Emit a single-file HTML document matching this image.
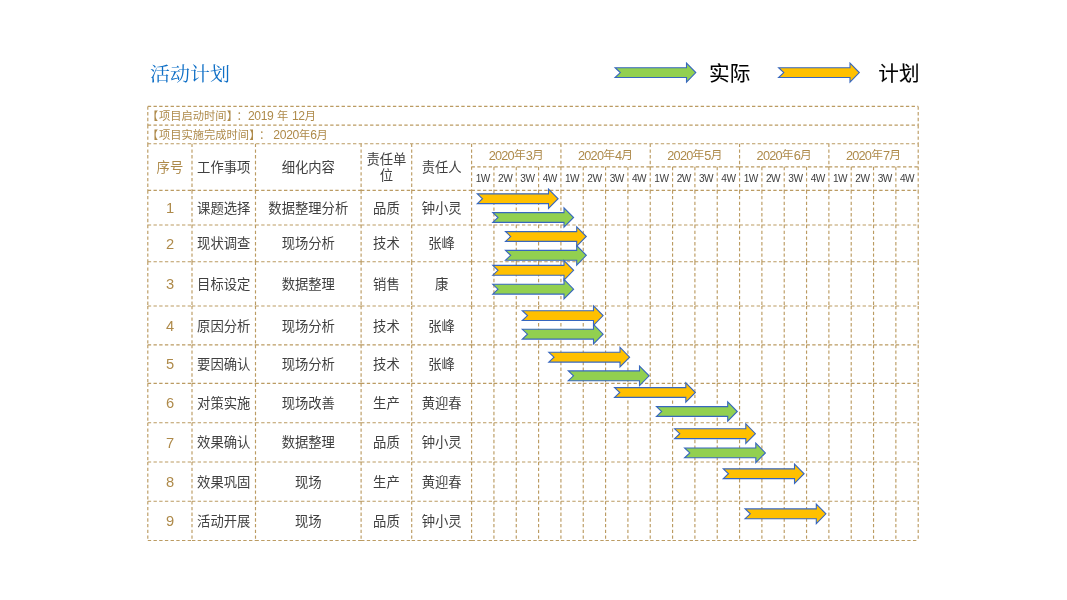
<!DOCTYPE html>
<html lang="zh-CN">
<head>
<meta charset="utf-8">
<title>活动计划</title>
<style>
html,body{margin:0;padding:0;background:#fff;}
body{width:1067px;height:600px;position:relative;overflow:hidden;font-family:"Liberation Sans","Noto Sans CJK SC",sans-serif;color:#404040;}
svg{position:absolute;left:0;top:0;}
.c{position:absolute;display:flex;align-items:center;justify-content:center;text-align:center;font-size:13.33px;line-height:15.8px;white-space:nowrap;box-sizing:border-box;}
.g{color:#AE8A4A;}
.m{font-size:11.8px;}
.w{font-size:10.1px;letter-spacing:-0.5px;}
.d{font-size:1.1em;line-height:0;}
.m .d{font-size:1.08em;letter-spacing:-0.06em;}
.info .d{font-size:1.08em;letter-spacing:-0.03em;}
.t{position:absolute;white-space:nowrap;}
.title{left:150px;top:61px;transform-origin:0 0;transform:scaleY(0.94);font-family:"Liberation Serif","Noto Serif CJK SC",serif;font-size:20px;line-height:28px;color:#0F6FC6;}
.lg{font-size:20.6px;line-height:28px;color:#000;top:60.3px;-webkit-text-stroke:0.1px #000;}
.cl{margin-left:4.2px;}
.bk{margin-left:0.7px;margin-right:0.3px;}
.d1{margin-left:0.1px;}
.d2{margin-left:3px;}
.sp{margin:0 3.6px;}
.info{font-size:11.25px;line-height:16px;color:#AE8A4A;left:147px;}
</style>
</head>
<body>
<svg width="1067" height="600" viewBox="0 0 1067 600">
<path d="M147.8 106.4H918.2M147.8 125.05H918.2M147.8 143.7H918.2M147.8 106.4V125.05M918.2 106.4V125.05M147.8 125.05V143.7M918.2 125.05V143.7M147.8 143.7V190.3M192 143.7V190.3M255.5 143.7V190.3M361.1 143.7V190.3M411.7 143.7V190.3M471.6 143.7V190.3M560.92 143.7V166.8M650.24 143.7V166.8M739.56 143.7V166.8M828.88 143.7V166.8M918.2 143.7V166.8M471.6 166.8H560.92M560.92 166.8H650.24M650.24 166.8H739.56M739.56 166.8H828.88M828.88 166.8H918.2M493.93 166.8V190.3M516.26 166.8V190.3M538.59 166.8V190.3M560.92 166.8V190.3M583.25 166.8V190.3M605.58 166.8V190.3M627.91 166.8V190.3M650.24 166.8V190.3M672.57 166.8V190.3M694.9 166.8V190.3M717.23 166.8V190.3M739.56 166.8V190.3M761.89 166.8V190.3M784.22 166.8V190.3M806.55 166.8V190.3M828.88 166.8V190.3M851.21 166.8V190.3M873.54 166.8V190.3M895.87 166.8V190.3M918.2 166.8V190.3M147.8 190.3H192M192 190.3H255.5M255.5 190.3H361.1M361.1 190.3H411.7M411.7 190.3H471.6M471.6 190.3H493.93M493.93 190.3H516.26M516.26 190.3H538.59M538.59 190.3H560.92M560.92 190.3H583.25M583.25 190.3H605.58M605.58 190.3H627.91M627.91 190.3H650.24M650.24 190.3H672.57M672.57 190.3H694.9M694.9 190.3H717.23M717.23 190.3H739.56M739.56 190.3H761.89M761.89 190.3H784.22M784.22 190.3H806.55M806.55 190.3H828.88M828.88 190.3H851.21M851.21 190.3H873.54M873.54 190.3H895.87M895.87 190.3H918.2M147.8 225H192M192 225H255.5M255.5 225H361.1M361.1 225H411.7M411.7 225H471.6M471.6 225H493.93M493.93 225H516.26M516.26 225H538.59M538.59 225H560.92M560.92 225H583.25M583.25 225H605.58M605.58 225H627.91M627.91 225H650.24M650.24 225H672.57M672.57 225H694.9M694.9 225H717.23M717.23 225H739.56M739.56 225H761.89M761.89 225H784.22M784.22 225H806.55M806.55 225H828.88M828.88 225H851.21M851.21 225H873.54M873.54 225H895.87M895.87 225H918.2M147.8 261.7H192M192 261.7H255.5M255.5 261.7H361.1M361.1 261.7H411.7M411.7 261.7H471.6M471.6 261.7H493.93M493.93 261.7H516.26M516.26 261.7H538.59M538.59 261.7H560.92M560.92 261.7H583.25M583.25 261.7H605.58M605.58 261.7H627.91M627.91 261.7H650.24M650.24 261.7H672.57M672.57 261.7H694.9M694.9 261.7H717.23M717.23 261.7H739.56M739.56 261.7H761.89M761.89 261.7H784.22M784.22 261.7H806.55M806.55 261.7H828.88M828.88 261.7H851.21M851.21 261.7H873.54M873.54 261.7H895.87M895.87 261.7H918.2M147.8 306H192M192 306H255.5M255.5 306H361.1M361.1 306H411.7M411.7 306H471.6M471.6 306H493.93M493.93 306H516.26M516.26 306H538.59M538.59 306H560.92M560.92 306H583.25M583.25 306H605.58M605.58 306H627.91M627.91 306H650.24M650.24 306H672.57M672.57 306H694.9M694.9 306H717.23M717.23 306H739.56M739.56 306H761.89M761.89 306H784.22M784.22 306H806.55M806.55 306H828.88M828.88 306H851.21M851.21 306H873.54M873.54 306H895.87M895.87 306H918.2M147.8 344.8H192M192 344.8H255.5M255.5 344.8H361.1M361.1 344.8H411.7M411.7 344.8H471.6M471.6 344.8H493.93M493.93 344.8H516.26M516.26 344.8H538.59M538.59 344.8H560.92M560.92 344.8H583.25M583.25 344.8H605.58M605.58 344.8H627.91M627.91 344.8H650.24M650.24 344.8H672.57M672.57 344.8H694.9M694.9 344.8H717.23M717.23 344.8H739.56M739.56 344.8H761.89M761.89 344.8H784.22M784.22 344.8H806.55M806.55 344.8H828.88M828.88 344.8H851.21M851.21 344.8H873.54M873.54 344.8H895.87M895.87 344.8H918.2M147.8 383.3H192M192 383.3H255.5M255.5 383.3H361.1M361.1 383.3H411.7M411.7 383.3H471.6M471.6 383.3H493.93M493.93 383.3H516.26M516.26 383.3H538.59M538.59 383.3H560.92M560.92 383.3H583.25M583.25 383.3H605.58M605.58 383.3H627.91M627.91 383.3H650.24M650.24 383.3H672.57M672.57 383.3H694.9M694.9 383.3H717.23M717.23 383.3H739.56M739.56 383.3H761.89M761.89 383.3H784.22M784.22 383.3H806.55M806.55 383.3H828.88M828.88 383.3H851.21M851.21 383.3H873.54M873.54 383.3H895.87M895.87 383.3H918.2M147.8 422.7H192M192 422.7H255.5M255.5 422.7H361.1M361.1 422.7H411.7M411.7 422.7H471.6M471.6 422.7H493.93M493.93 422.7H516.26M516.26 422.7H538.59M538.59 422.7H560.92M560.92 422.7H583.25M583.25 422.7H605.58M605.58 422.7H627.91M627.91 422.7H650.24M650.24 422.7H672.57M672.57 422.7H694.9M694.9 422.7H717.23M717.23 422.7H739.56M739.56 422.7H761.89M761.89 422.7H784.22M784.22 422.7H806.55M806.55 422.7H828.88M828.88 422.7H851.21M851.21 422.7H873.54M873.54 422.7H895.87M895.87 422.7H918.2M147.8 462H192M192 462H255.5M255.5 462H361.1M361.1 462H411.7M411.7 462H471.6M471.6 462H493.93M493.93 462H516.26M516.26 462H538.59M538.59 462H560.92M560.92 462H583.25M583.25 462H605.58M605.58 462H627.91M627.91 462H650.24M650.24 462H672.57M672.57 462H694.9M694.9 462H717.23M717.23 462H739.56M739.56 462H761.89M761.89 462H784.22M784.22 462H806.55M806.55 462H828.88M828.88 462H851.21M851.21 462H873.54M873.54 462H895.87M895.87 462H918.2M147.8 501.2H192M192 501.2H255.5M255.5 501.2H361.1M361.1 501.2H411.7M411.7 501.2H471.6M471.6 501.2H493.93M493.93 501.2H516.26M516.26 501.2H538.59M538.59 501.2H560.92M560.92 501.2H583.25M583.25 501.2H605.58M605.58 501.2H627.91M627.91 501.2H650.24M650.24 501.2H672.57M672.57 501.2H694.9M694.9 501.2H717.23M717.23 501.2H739.56M739.56 501.2H761.89M761.89 501.2H784.22M784.22 501.2H806.55M806.55 501.2H828.88M828.88 501.2H851.21M851.21 501.2H873.54M873.54 501.2H895.87M895.87 501.2H918.2M147.8 540.5H192M192 540.5H255.5M255.5 540.5H361.1M361.1 540.5H411.7M411.7 540.5H471.6M471.6 540.5H493.93M493.93 540.5H516.26M516.26 540.5H538.59M538.59 540.5H560.92M560.92 540.5H583.25M583.25 540.5H605.58M605.58 540.5H627.91M627.91 540.5H650.24M650.24 540.5H672.57M672.57 540.5H694.9M694.9 540.5H717.23M717.23 540.5H739.56M739.56 540.5H761.89M761.89 540.5H784.22M784.22 540.5H806.55M806.55 540.5H828.88M828.88 540.5H851.21M851.21 540.5H873.54M873.54 540.5H895.87M895.87 540.5H918.2M147.8 190.3V225M192 190.3V225M255.5 190.3V225M361.1 190.3V225M411.7 190.3V225M471.6 190.3V225M493.93 190.3V225M516.26 190.3V225M538.59 190.3V225M560.92 190.3V225M583.25 190.3V225M605.58 190.3V225M627.91 190.3V225M650.24 190.3V225M672.57 190.3V225M694.9 190.3V225M717.23 190.3V225M739.56 190.3V225M761.89 190.3V225M784.22 190.3V225M806.55 190.3V225M828.88 190.3V225M851.21 190.3V225M873.54 190.3V225M895.87 190.3V225M918.2 190.3V225M147.8 225V261.7M192 225V261.7M255.5 225V261.7M361.1 225V261.7M411.7 225V261.7M471.6 225V261.7M493.93 225V261.7M516.26 225V261.7M538.59 225V261.7M560.92 225V261.7M583.25 225V261.7M605.58 225V261.7M627.91 225V261.7M650.24 225V261.7M672.57 225V261.7M694.9 225V261.7M717.23 225V261.7M739.56 225V261.7M761.89 225V261.7M784.22 225V261.7M806.55 225V261.7M828.88 225V261.7M851.21 225V261.7M873.54 225V261.7M895.87 225V261.7M918.2 225V261.7M147.8 261.7V306M192 261.7V306M255.5 261.7V306M361.1 261.7V306M411.7 261.7V306M471.6 261.7V306M493.93 261.7V306M516.26 261.7V306M538.59 261.7V306M560.92 261.7V306M583.25 261.7V306M605.58 261.7V306M627.91 261.7V306M650.24 261.7V306M672.57 261.7V306M694.9 261.7V306M717.23 261.7V306M739.56 261.7V306M761.89 261.7V306M784.22 261.7V306M806.55 261.7V306M828.88 261.7V306M851.21 261.7V306M873.54 261.7V306M895.87 261.7V306M918.2 261.7V306M147.8 306V344.8M192 306V344.8M255.5 306V344.8M361.1 306V344.8M411.7 306V344.8M471.6 306V344.8M493.93 306V344.8M516.26 306V344.8M538.59 306V344.8M560.92 306V344.8M583.25 306V344.8M605.58 306V344.8M627.91 306V344.8M650.24 306V344.8M672.57 306V344.8M694.9 306V344.8M717.23 306V344.8M739.56 306V344.8M761.89 306V344.8M784.22 306V344.8M806.55 306V344.8M828.88 306V344.8M851.21 306V344.8M873.54 306V344.8M895.87 306V344.8M918.2 306V344.8M147.8 344.8V383.3M192 344.8V383.3M255.5 344.8V383.3M361.1 344.8V383.3M411.7 344.8V383.3M471.6 344.8V383.3M493.93 344.8V383.3M516.26 344.8V383.3M538.59 344.8V383.3M560.92 344.8V383.3M583.25 344.8V383.3M605.58 344.8V383.3M627.91 344.8V383.3M650.24 344.8V383.3M672.57 344.8V383.3M694.9 344.8V383.3M717.23 344.8V383.3M739.56 344.8V383.3M761.89 344.8V383.3M784.22 344.8V383.3M806.55 344.8V383.3M828.88 344.8V383.3M851.21 344.8V383.3M873.54 344.8V383.3M895.87 344.8V383.3M918.2 344.8V383.3M147.8 383.3V422.7M192 383.3V422.7M255.5 383.3V422.7M361.1 383.3V422.7M411.7 383.3V422.7M471.6 383.3V422.7M493.93 383.3V422.7M516.26 383.3V422.7M538.59 383.3V422.7M560.92 383.3V422.7M583.25 383.3V422.7M605.58 383.3V422.7M627.91 383.3V422.7M650.24 383.3V422.7M672.57 383.3V422.7M694.9 383.3V422.7M717.23 383.3V422.7M739.56 383.3V422.7M761.89 383.3V422.7M784.22 383.3V422.7M806.55 383.3V422.7M828.88 383.3V422.7M851.21 383.3V422.7M873.54 383.3V422.7M895.87 383.3V422.7M918.2 383.3V422.7M147.8 422.7V462M192 422.7V462M255.5 422.7V462M361.1 422.7V462M411.7 422.7V462M471.6 422.7V462M493.93 422.7V462M516.26 422.7V462M538.59 422.7V462M560.92 422.7V462M583.25 422.7V462M605.58 422.7V462M627.91 422.7V462M650.24 422.7V462M672.57 422.7V462M694.9 422.7V462M717.23 422.7V462M739.56 422.7V462M761.89 422.7V462M784.22 422.7V462M806.55 422.7V462M828.88 422.7V462M851.21 422.7V462M873.54 422.7V462M895.87 422.7V462M918.2 422.7V462M147.8 462V501.2M192 462V501.2M255.5 462V501.2M361.1 462V501.2M411.7 462V501.2M471.6 462V501.2M493.93 462V501.2M516.26 462V501.2M538.59 462V501.2M560.92 462V501.2M583.25 462V501.2M605.58 462V501.2M627.91 462V501.2M650.24 462V501.2M672.57 462V501.2M694.9 462V501.2M717.23 462V501.2M739.56 462V501.2M761.89 462V501.2M784.22 462V501.2M806.55 462V501.2M828.88 462V501.2M851.21 462V501.2M873.54 462V501.2M895.87 462V501.2M918.2 462V501.2M147.8 501.2V540.5M192 501.2V540.5M255.5 501.2V540.5M361.1 501.2V540.5M411.7 501.2V540.5M471.6 501.2V540.5M493.93 501.2V540.5M516.26 501.2V540.5M538.59 501.2V540.5M560.92 501.2V540.5M583.25 501.2V540.5M605.58 501.2V540.5M627.91 501.2V540.5M650.24 501.2V540.5M672.57 501.2V540.5M694.9 501.2V540.5M717.23 501.2V540.5M739.56 501.2V540.5M761.89 501.2V540.5M784.22 501.2V540.5M806.55 501.2V540.5M828.88 501.2V540.5M851.21 501.2V540.5M873.54 501.2V540.5M895.87 501.2V540.5M918.2 501.2V540.5" fill="none" stroke="#BB9B62" stroke-width="1.15" stroke-dasharray="3.35 2.35"/>
</svg>
<div class="t title">活动计划</div>
<div class="t lg" style="left:709.1px">实际</div>
<div class="t lg" style="left:878.3px">计划</div>
<div class="t info" style="top:108.4px">【<span class="bk">项目启动时间</span>】<span class="cl">：</span><span class="d d1">2019</span><span class="sp">年</span><span class="d">12</span>月</div>
<div class="t info" style="top:127.2px">【<span class="bk">项目实施完成时间</span>】<span class="cl">：</span><span class="d d2">2020</span>年<span class="d">6</span>月</div>
<div class="c g" style="left:147.8px;top:144.7px;width:44.2px;height:46.6px">序号</div>
<div class="c " style="left:192px;top:144.7px;width:63.5px;height:46.6px">工作事项</div>
<div class="c " style="left:255.5px;top:144.7px;width:105.6px;height:46.6px">细化内容</div>
<div class="c " style="left:361.1px;top:144.7px;width:50.6px;height:46.6px">责任单<br>位</div>
<div class="c " style="left:411.7px;top:144.7px;width:59.9px;height:46.6px">责任人</div>
<div class="c g m" style="left:471.6px;top:144.6px;width:89.32px;height:23.1px"><span class="d">2020</span>年<span class="d">3</span>月</div>
<div class="c g m" style="left:560.92px;top:144.6px;width:89.32px;height:23.1px"><span class="d">2020</span>年<span class="d">4</span>月</div>
<div class="c g m" style="left:650.24px;top:144.6px;width:89.32px;height:23.1px"><span class="d">2020</span>年<span class="d">5</span>月</div>
<div class="c g m" style="left:739.56px;top:144.6px;width:89.32px;height:23.1px"><span class="d">2020</span>年<span class="d">6</span>月</div>
<div class="c g m" style="left:828.88px;top:144.6px;width:89.32px;height:23.1px"><span class="d">2020</span>年<span class="d">7</span>月</div>
<div class="c w" style="left:471.6px;top:167px;width:22.33px;height:23.5px">1W</div>
<div class="c w" style="left:493.93px;top:167px;width:22.33px;height:23.5px">2W</div>
<div class="c w" style="left:516.26px;top:167px;width:22.33px;height:23.5px">3W</div>
<div class="c w" style="left:538.59px;top:167px;width:22.33px;height:23.5px">4W</div>
<div class="c w" style="left:560.92px;top:167px;width:22.33px;height:23.5px">1W</div>
<div class="c w" style="left:583.25px;top:167px;width:22.33px;height:23.5px">2W</div>
<div class="c w" style="left:605.58px;top:167px;width:22.33px;height:23.5px">3W</div>
<div class="c w" style="left:627.91px;top:167px;width:22.33px;height:23.5px">4W</div>
<div class="c w" style="left:650.24px;top:167px;width:22.33px;height:23.5px">1W</div>
<div class="c w" style="left:672.57px;top:167px;width:22.33px;height:23.5px">2W</div>
<div class="c w" style="left:694.9px;top:167px;width:22.33px;height:23.5px">3W</div>
<div class="c w" style="left:717.23px;top:167px;width:22.33px;height:23.5px">4W</div>
<div class="c w" style="left:739.56px;top:167px;width:22.33px;height:23.5px">1W</div>
<div class="c w" style="left:761.89px;top:167px;width:22.33px;height:23.5px">2W</div>
<div class="c w" style="left:784.22px;top:167px;width:22.33px;height:23.5px">3W</div>
<div class="c w" style="left:806.55px;top:167px;width:22.33px;height:23.5px">4W</div>
<div class="c w" style="left:828.88px;top:167px;width:22.33px;height:23.5px">1W</div>
<div class="c w" style="left:851.21px;top:167px;width:22.33px;height:23.5px">2W</div>
<div class="c w" style="left:873.54px;top:167px;width:22.33px;height:23.5px">3W</div>
<div class="c w" style="left:895.87px;top:167px;width:22.33px;height:23.5px">4W</div>
<div class="c g n" style="left:148.1px;top:190.6px;width:44.2px;height:34.7px"><span class="d">1</span></div>
<div class="c " style="left:192px;top:191.3px;width:63.5px;height:34.7px">课题选择</div>
<div class="c " style="left:255.5px;top:191.3px;width:105.6px;height:34.7px">数据整理分析</div>
<div class="c " style="left:361.1px;top:191.3px;width:50.6px;height:34.7px">品质</div>
<div class="c " style="left:411.7px;top:191.3px;width:59.9px;height:34.7px">钟小灵</div>
<div class="c g n" style="left:148.1px;top:225.3px;width:44.2px;height:36.7px"><span class="d">2</span></div>
<div class="c " style="left:192px;top:226px;width:63.5px;height:36.7px">现状调查</div>
<div class="c " style="left:255.5px;top:226px;width:105.6px;height:36.7px">现场分析</div>
<div class="c " style="left:361.1px;top:226px;width:50.6px;height:36.7px">技术</div>
<div class="c " style="left:411.7px;top:226px;width:59.9px;height:36.7px">张峰</div>
<div class="c g n" style="left:148.1px;top:262px;width:44.2px;height:44.3px"><span class="d">3</span></div>
<div class="c " style="left:192px;top:262.7px;width:63.5px;height:44.3px">目标设定</div>
<div class="c " style="left:255.5px;top:262.7px;width:105.6px;height:44.3px">数据整理</div>
<div class="c " style="left:361.1px;top:262.7px;width:50.6px;height:44.3px">销售</div>
<div class="c " style="left:411.7px;top:262.7px;width:59.9px;height:44.3px">康</div>
<div class="c g n" style="left:148.1px;top:306.3px;width:44.2px;height:38.8px"><span class="d">4</span></div>
<div class="c " style="left:192px;top:307px;width:63.5px;height:38.8px">原因分析</div>
<div class="c " style="left:255.5px;top:307px;width:105.6px;height:38.8px">现场分析</div>
<div class="c " style="left:361.1px;top:307px;width:50.6px;height:38.8px">技术</div>
<div class="c " style="left:411.7px;top:307px;width:59.9px;height:38.8px">张峰</div>
<div class="c g n" style="left:148.1px;top:345.1px;width:44.2px;height:38.5px"><span class="d">5</span></div>
<div class="c " style="left:192px;top:345.8px;width:63.5px;height:38.5px">要因确认</div>
<div class="c " style="left:255.5px;top:345.8px;width:105.6px;height:38.5px">现场分析</div>
<div class="c " style="left:361.1px;top:345.8px;width:50.6px;height:38.5px">技术</div>
<div class="c " style="left:411.7px;top:345.8px;width:59.9px;height:38.5px">张峰</div>
<div class="c g n" style="left:148.1px;top:383.6px;width:44.2px;height:39.4px"><span class="d">6</span></div>
<div class="c " style="left:192px;top:384.3px;width:63.5px;height:39.4px">对策实施</div>
<div class="c " style="left:255.5px;top:384.3px;width:105.6px;height:39.4px">现场改善</div>
<div class="c " style="left:361.1px;top:384.3px;width:50.6px;height:39.4px">生产</div>
<div class="c " style="left:411.7px;top:384.3px;width:59.9px;height:39.4px">黄迎春</div>
<div class="c g n" style="left:148.1px;top:423px;width:44.2px;height:39.3px"><span class="d">7</span></div>
<div class="c " style="left:192px;top:423.7px;width:63.5px;height:39.3px">效果确认</div>
<div class="c " style="left:255.5px;top:423.7px;width:105.6px;height:39.3px">数据整理</div>
<div class="c " style="left:361.1px;top:423.7px;width:50.6px;height:39.3px">品质</div>
<div class="c " style="left:411.7px;top:423.7px;width:59.9px;height:39.3px">钟小灵</div>
<div class="c g n" style="left:148.1px;top:462.3px;width:44.2px;height:39.2px"><span class="d">8</span></div>
<div class="c " style="left:192px;top:463px;width:63.5px;height:39.2px">效果巩固</div>
<div class="c " style="left:255.5px;top:463px;width:105.6px;height:39.2px">现场</div>
<div class="c " style="left:361.1px;top:463px;width:50.6px;height:39.2px">生产</div>
<div class="c " style="left:411.7px;top:463px;width:59.9px;height:39.2px">黄迎春</div>
<div class="c g n" style="left:148.1px;top:501.5px;width:44.2px;height:39.3px"><span class="d">9</span></div>
<div class="c " style="left:192px;top:502.2px;width:63.5px;height:39.3px">活动开展</div>
<div class="c " style="left:255.5px;top:502.2px;width:105.6px;height:39.3px">现场</div>
<div class="c " style="left:361.1px;top:502.2px;width:50.6px;height:39.3px">品质</div>
<div class="c " style="left:411.7px;top:502.2px;width:59.9px;height:39.3px">钟小灵</div>
<svg width="1067" height="600" viewBox="0 0 1067 600">
<path d="M477.3 193.85L548.5 193.85L548.5 189L558.1 198.75L548.5 208.5L548.5 203.65L477.3 203.65L482.5 198.75Z" fill="#FFC000" stroke="#3767BF" stroke-width="1.1" stroke-linejoin="miter"/>
<path d="M492.8 212.6L564 212.6L564 207.75L573.6 217.5L564 227.25L564 222.4L492.8 222.4L498 217.5Z" fill="#92D050" stroke="#3767BF" stroke-width="1.1" stroke-linejoin="miter"/>
<path d="M505.5 231.6L576.7 231.6L576.7 226.75L586.3 236.5L576.7 246.25L576.7 241.4L505.5 241.4L510.7 236.5Z" fill="#FFC000" stroke="#3767BF" stroke-width="1.1" stroke-linejoin="miter"/>
<path d="M505.5 250.4L576.7 250.4L576.7 245.55L586.3 255.3L576.7 265.05L576.7 260.2L505.5 260.2L510.7 255.3Z" fill="#92D050" stroke="#3767BF" stroke-width="1.1" stroke-linejoin="miter"/>
<path d="M492.8 265.4L564 265.4L564 260.55L573.6 270.3L564 280.05L564 275.2L492.8 275.2L498 270.3Z" fill="#FFC000" stroke="#3767BF" stroke-width="1.1" stroke-linejoin="miter"/>
<path d="M492.8 284.3L564 284.3L564 279.45L573.6 289.2L564 298.95L564 294.1L492.8 294.1L498 289.2Z" fill="#92D050" stroke="#3767BF" stroke-width="1.1" stroke-linejoin="miter"/>
<path d="M522.3 310.7L593.5 310.7L593.5 305.85L603.1 315.6L593.5 325.35L593.5 320.5L522.3 320.5L527.5 315.6Z" fill="#FFC000" stroke="#3767BF" stroke-width="1.1" stroke-linejoin="miter"/>
<path d="M522.3 329.3L593.5 329.3L593.5 324.45L603.1 334.2L593.5 343.95L593.5 339.1L522.3 339.1L527.5 334.2Z" fill="#92D050" stroke="#3767BF" stroke-width="1.1" stroke-linejoin="miter"/>
<path d="M548.8 352.3L620 352.3L620 347.45L629.6 357.2L620 366.95L620 362.1L548.8 362.1L554 357.2Z" fill="#FFC000" stroke="#3767BF" stroke-width="1.1" stroke-linejoin="miter"/>
<path d="M568.3 370.9L639.5 370.9L639.5 366.05L649.1 375.8L639.5 385.55L639.5 380.7L568.3 380.7L573.5 375.8Z" fill="#92D050" stroke="#3767BF" stroke-width="1.1" stroke-linejoin="miter"/>
<path d="M614.6 387.6L685.8 387.6L685.8 382.75L695.4 392.5L685.8 402.25L685.8 397.4L614.6 397.4L619.8 392.5Z" fill="#FFC000" stroke="#3767BF" stroke-width="1.1" stroke-linejoin="miter"/>
<path d="M656.5 406.6L727.7 406.6L727.7 401.75L737.3 411.5L727.7 421.25L727.7 416.4L656.5 416.4L661.7 411.5Z" fill="#92D050" stroke="#3767BF" stroke-width="1.1" stroke-linejoin="miter"/>
<path d="M674.6 428.8L745.8 428.8L745.8 423.95L755.4 433.7L745.8 443.45L745.8 438.6L674.6 438.6L679.8 433.7Z" fill="#FFC000" stroke="#3767BF" stroke-width="1.1" stroke-linejoin="miter"/>
<path d="M684.6 448L755.8 448L755.8 443.15L765.4 452.9L755.8 462.65L755.8 457.8L684.6 457.8L689.8 452.9Z" fill="#92D050" stroke="#3767BF" stroke-width="1.1" stroke-linejoin="miter"/>
<path d="M723.3 468.85L794.5 468.85L794.5 464L804.1 473.75L794.5 483.5L794.5 478.65L723.3 478.65L728.5 473.75Z" fill="#FFC000" stroke="#3767BF" stroke-width="1.1" stroke-linejoin="miter"/>
<path d="M745.1 508.9L816.3 508.9L816.3 504.05L825.9 513.8L816.3 523.55L816.3 518.7L745.1 518.7L750.3 513.8Z" fill="#FFC000" stroke="#3767BF" stroke-width="1.1" stroke-linejoin="miter"/>
<path d="M615.1 67.7L686.5 67.7L686.5 63L695.8 72.6L686.5 82.2L686.5 77.5L615.1 77.5L620.3 72.6Z" fill="#92D050" stroke="#3767BF" stroke-width="1.1" stroke-linejoin="miter"/>
<path d="M778.6 67.7L850 67.7L850 63L859.3 72.6L850 82.2L850 77.5L778.6 77.5L783.8 72.6Z" fill="#FFC000" stroke="#3767BF" stroke-width="1.1" stroke-linejoin="miter"/>
</svg>
</body>
</html>
